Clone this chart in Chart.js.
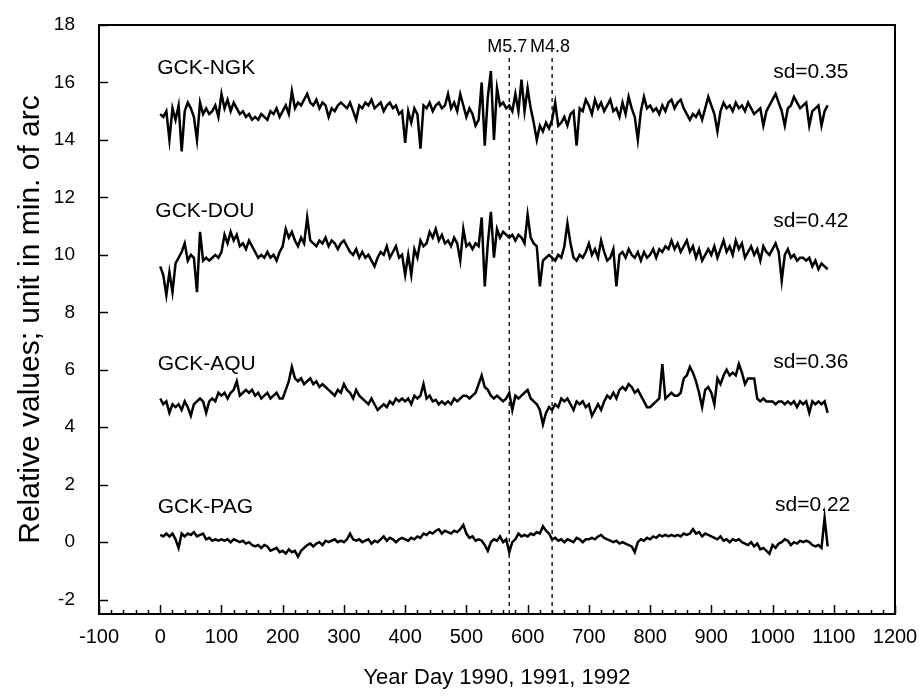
<!DOCTYPE html>
<html>
<head>
<meta charset="utf-8">
<script src="https://cdn.jsdelivr.net/npm/chart.js@4.4.0/dist/chart.umd.min.js"></script>
<style>
  html, body { margin: 0; padding: 0; background: #fff; }
  canvas { display: block; }
</style>
</head>
<body>
<canvas id="tiltChart" width="923" height="699"></canvas>
<script>
// Year day (sampled every 5 days)
var days = [
    0, 5, 10, 15, 20, 25, 30, 35, 40, 45, 50, 55, 60, 65, 70, 75, 80, 85, 90, 95,
    100, 105, 110, 115, 120, 125, 130, 135, 140, 145, 150, 155, 160, 165, 170, 175, 180, 185, 190, 195,
    200, 205, 210, 215, 220, 225, 230, 235, 240, 245, 250, 255, 260, 265, 270, 275, 280, 285, 290, 295,
    300, 305, 310, 315, 320, 325, 330, 335, 340, 345, 350, 355, 360, 365, 370, 375, 380, 385, 390, 395,
    400, 405, 410, 415, 420, 425, 430, 435, 440, 445, 450, 455, 460, 465, 470, 475, 480, 485, 490, 495,
    500, 505, 510, 515, 520, 525, 530, 535, 540, 545, 550, 555, 560, 565, 570, 575, 580, 585, 590, 595,
    600, 605, 610, 615, 620, 625, 630, 635, 640, 645, 650, 655, 660, 665, 670, 675, 680, 685, 690, 695,
    700, 705, 710, 715, 720, 725, 730, 735, 740, 745, 750, 755, 760, 765, 770, 775, 780, 785, 790, 795,
    800, 805, 810, 815, 820, 825, 830, 835, 840, 845, 850, 855, 860, 865, 870, 875, 880, 885, 890, 895,
    900, 905, 910, 915, 920, 925, 930, 935, 940, 945, 950, 955, 960, 965, 970, 975, 980, 985, 990, 995,
    1000, 1005, 1010, 1015, 1020, 1025, 1030, 1035, 1040, 1045, 1050, 1055, 1060, 1065, 1070, 1075, 1080, 1085, 1090
];

var gckNgk = [
    14.9, 14.8, 15.0, 14.0, 15.1, 14.7, 15.2, 13.6, 15.0, 15.3, 15.1, 14.8, 14.0, 15.3, 14.9, 15.1, 14.9, 15.0, 15.2, 14.8,
    15.6, 15.1, 15.4, 15.0, 15.3, 15.1, 14.9, 15.0, 14.8, 14.9, 14.7, 14.8, 14.7, 14.9, 14.8, 14.7, 15.0, 14.9, 15.1, 14.8,
    15.0, 15.2, 14.9, 15.7, 15.1, 15.3, 15.2, 15.4, 15.6, 15.3, 15.2, 15.4, 15.1, 15.3, 15.2, 14.8, 15.1, 15.0, 15.2, 15.3,
    15.2, 15.1, 15.3, 15.0, 14.7, 15.2, 15.1, 15.3, 15.2, 15.4, 15.1, 15.2, 15.3, 15.0, 15.2, 15.3, 15.1, 15.2, 14.9, 15.0,
    13.9, 15.0, 14.6, 15.1, 14.9, 13.7, 15.2, 15.1, 15.3, 15.0, 15.2, 15.3, 15.1, 15.2, 15.6, 15.1, 15.3, 15.0, 15.6, 15.2,
    14.8, 15.1, 14.9, 14.5, 14.7, 16.0, 13.8, 15.5, 16.4, 14.0, 15.8, 15.2, 15.3, 15.1, 15.2, 15.0, 15.6, 15.0, 16.1, 15.0,
    15.8, 15.1, 14.6, 14.0, 14.5, 14.3, 14.6, 14.4, 14.7, 15.3, 14.5, 14.6, 14.8, 14.5, 14.9, 15.0, 13.8, 15.1, 15.0, 15.4,
    15.2, 14.9, 15.4, 15.1, 15.3, 15.0, 15.2, 15.4, 15.0, 15.1, 14.8, 15.3, 14.9, 15.5, 15.1, 14.8, 14.0, 15.0, 15.5, 15.1,
    15.2, 15.0, 15.1, 14.9, 15.2, 15.0, 15.3, 15.4, 15.1, 15.3, 15.4, 15.1, 14.9, 14.7, 14.9, 14.8, 15.0, 14.7, 15.1, 15.5,
    15.2, 14.9, 14.3, 15.0, 15.3, 15.1, 15.2, 15.0, 15.3, 15.1, 15.2, 15.0, 15.3, 15.1, 14.9, 15.0, 15.1, 14.5, 15.0, 15.2,
    15.4, 15.6, 15.3, 15.0, 14.5, 15.1, 15.2, 15.5, 15.3, 15.1, 15.2, 15.3, 14.5, 15.0, 15.1, 15.2, 14.5, 15.0, 15.2
];

var gckDou = [
    9.6, 9.3, 8.6, 9.4, 8.7, 9.7, 9.9, 10.1, 10.4, 9.8, 10.0, 9.9, 8.7, 10.8, 9.8, 9.9, 9.8, 9.9, 10.0, 9.9,
    10.1, 10.7, 10.4, 10.8, 10.5, 10.7, 10.3, 10.4, 10.2, 10.5, 10.3, 10.1, 9.9, 10.0, 9.9, 10.1, 9.9, 10.0, 9.8, 10.1,
    10.3, 10.9, 10.6, 10.8, 10.5, 10.3, 10.6, 10.4, 11.3, 10.5, 10.4, 10.3, 10.5, 10.4, 10.6, 10.3, 10.5, 10.4, 10.2, 10.4,
    10.5, 10.3, 10.1, 10.0, 10.2, 9.9, 10.1, 9.9, 10.0, 9.8, 9.6, 9.9, 10.1, 10.0, 10.3, 9.9, 10.1, 10.3, 9.9, 10.0,
    9.3, 10.0, 9.3, 10.2, 9.9, 10.5, 10.3, 10.4, 10.8, 10.6, 10.9, 10.5, 10.7, 10.4, 10.5, 10.3, 10.6, 10.4, 9.8, 10.9,
    10.3, 10.4, 10.2, 10.4, 10.3, 11.3, 8.9, 10.4, 11.5, 9.9, 10.9, 10.6, 10.8, 10.7, 10.6, 10.7, 10.5, 10.7, 10.6, 10.4,
    11.4, 10.6, 10.4, 10.3, 8.9, 9.8, 9.9, 10.0, 9.9, 9.8, 10.0, 9.9, 10.3, 11.1, 10.4, 9.9, 9.8, 10.0, 9.9, 10.1,
    10.4, 10.0, 10.2, 9.9, 10.5, 10.1, 9.8, 9.9, 10.2, 8.9, 10.0, 10.1, 9.9, 10.2, 10.0, 9.9, 10.1, 9.8, 10.1, 9.9,
    10.0, 10.2, 9.9, 10.2, 10.1, 10.3, 10.2, 10.5, 10.2, 10.4, 10.1, 10.3, 10.5, 10.1, 10.3, 9.9, 10.2, 9.8, 10.0, 10.2,
    10.0, 10.3, 9.9, 10.2, 10.5, 10.1, 10.3, 10.0, 10.5, 10.2, 10.4, 9.9, 10.1, 10.3, 10.0, 10.2, 9.8, 10.3, 10.1, 10.0,
    10.2, 10.4, 10.1, 9.1, 10.0, 10.2, 9.9, 10.0, 9.8, 9.9, 9.9, 9.8, 9.9, 9.6, 9.8, 9.5, 9.7, 9.6, 9.5
];

var gckAqu = [
    5.0, 4.8, 4.9, 4.5, 4.8, 4.7, 4.8, 4.6, 4.9, 4.7, 4.4, 4.8, 4.9, 5.0, 4.9, 4.5, 4.9, 5.0, 4.9, 5.2,
    5.1, 5.2, 5.0, 5.2, 5.3, 5.6, 5.1, 5.2, 5.3, 5.2, 5.3, 5.1, 5.2, 5.0, 5.1, 5.2, 5.0, 5.1, 5.2, 5.0,
    5.0, 5.3, 5.6, 6.1, 5.7, 5.6, 5.7, 5.5, 5.6, 5.7, 5.5, 5.6, 5.4, 5.5, 5.4, 5.3, 5.2, 5.1, 5.3, 5.2,
    5.5, 5.3, 5.2, 5.0, 5.3, 5.1, 5.0, 4.9, 4.8, 5.0, 4.8, 4.6, 4.7, 4.8, 4.7, 4.9, 4.8, 5.0, 4.9, 5.0,
    4.9, 5.0, 4.8, 5.1, 5.0, 5.1, 5.5, 5.0, 5.1, 4.9, 4.95, 4.8, 4.9, 4.8, 4.9, 4.8, 5.0, 4.9, 5.0, 5.1,
    5.1, 5.0, 5.1, 5.2, 5.5, 5.8, 5.4, 5.3, 5.1, 5.0, 5.1, 5.0, 4.9, 5.0, 5.2, 4.6, 5.1, 5.0, 5.1, 5.2,
    5.3, 5.0, 4.9, 4.8, 4.6, 4.1, 4.5, 4.7, 4.6, 4.8, 4.7, 5.0, 4.9, 5.0, 4.8, 4.6, 4.9, 4.8, 4.9, 4.7,
    4.8, 4.4, 4.6, 4.8, 4.6, 4.9, 5.1, 5.0, 5.2, 5.0, 5.3, 5.4, 5.3, 5.5, 5.4, 5.2, 5.3, 5.1, 4.9, 4.7,
    4.7, 4.8, 4.9, 5.0, 6.2, 5.0, 5.1, 5.2, 5.1, 5.1, 5.2, 5.7, 5.8, 6.1, 5.9, 5.6, 5.2, 4.7, 5.3, 5.4,
    5.2, 4.8, 5.7, 5.5, 5.8, 6.0, 5.8, 5.9, 5.8, 6.2, 5.9, 5.5, 5.7, 5.7, 5.7, 5.0, 4.9, 5.0, 4.9, 4.9,
    4.9, 4.8, 4.9, 4.9, 4.8, 4.9, 4.8, 4.9, 4.7, 4.9, 4.8, 4.9, 4.5, 4.9, 4.8, 4.9, 4.8, 4.9, 4.5
];

var gckPag = [
    0.25, 0.2, 0.3, 0.2, 0.3, 0.1, -0.2, 0.3, 0.2, 0.3, 0.25, 0.35, 0.2, 0.25, 0.3, 0.1, 0.15, 0.05, 0.1, 0.05,
    0.1, 0.05, 0.1, 0.0, 0.1, 0.05, 0.0, 0.05, -0.05, 0.0, -0.1, -0.15, -0.1, -0.2, -0.1, -0.15, -0.3, -0.25, -0.2, -0.35,
    -0.3, -0.4, -0.25, -0.35, -0.3, -0.5, -0.3, -0.2, -0.1, -0.05, -0.15, -0.05, 0.0, -0.1, 0.05, 0.0, 0.05, 0.1, 0.0, 0.05,
    0.0, 0.1, 0.3, 0.1, 0.05, 0.1, 0.0, 0.05, 0.1, -0.05, 0.05, 0.0, 0.1, 0.2, 0.05, 0.15, 0.1, 0.0, 0.1, 0.15,
    0.1, 0.05, 0.15, 0.1, 0.2, 0.15, 0.3, 0.25, 0.35, 0.3, 0.4, 0.45, 0.3, 0.4, 0.35, 0.3, 0.4, 0.35, 0.45, 0.6,
    0.3, 0.15, 0.2, 0.05, 0.1, 0.05, -0.1, -0.3, 0.0, 0.1, 0.05, 0.2, 0.0, 0.1, -0.35, 0.0, 0.1, 0.3, 0.2, 0.25,
    0.2, 0.3, 0.25, 0.35, 0.3, 0.55, 0.4, 0.3, 0.1, 0.15, 0.05, 0.1, 0.0, 0.1, 0.05, 0.0, 0.15, 0.1, 0.0, 0.1,
    0.1, 0.15, 0.1, 0.2, 0.25, 0.15, 0.1, 0.05, 0.0, 0.05, -0.05, 0.0, -0.05, -0.1, -0.15, -0.35, 0.0, 0.1, 0.05, 0.15,
    0.1, 0.2, 0.15, 0.25, 0.2, 0.25, 0.2, 0.25, 0.2, 0.25, 0.2, 0.3, 0.25, 0.3, 0.45, 0.3, 0.35, 0.2, 0.3, 0.25,
    0.2, 0.15, 0.1, 0.2, 0.05, 0.1, 0.0, 0.1, 0.05, 0.1, 0.0, -0.05, -0.1, 0.0, -0.15, -0.05, -0.25, -0.2, -0.3, -0.4,
    -0.1, -0.2, -0.05, 0.0, 0.1, 0.05, -0.1, 0.0, -0.05, 0.05, 0.0, 0.05, 0.0, -0.1, -0.15, -0.1, -0.2, 0.85, -0.15
];

// earthquake days (M5.7, M4.8)
var quakeDays = [570, 640];
var quakeNames = ['M5.7', 'M4.8'];

var seriesNames = ['GCK-NGK', 'GCK-DOU', 'GCK-AQU', 'GCK-PAG'];
var sdTexts = ['sd=0.35', 'sd=0.42', 'sd=0.36', 'sd=0.22'];

var xTicks = [-100, 0, 100, 200, 300, 400, 500, 600, 700, 800, 900, 1000, 1100, 1200];
var yTicks = [-2, 0, 2, 4, 6, 8, 10, 12, 14, 16, 18];

var FONT = '"Liberation Sans", Arial, sans-serif';

function toPoints(values) {
    return days.map(function (d, i) { return {x: d, y: values[i]}; });
}

function seriesDataset(values) {
    return {
        data: toPoints(values),
        borderColor: '#000',
        borderWidth: 2.5,
        pointRadius: 0,
        tension: 0,
        fill: false
    };
}

function quakeDataset(day) {
    return {
        data: [{x: day, y: -2.5}, {x: day, y: 16.85}],
        borderColor: '#000',
        borderWidth: 1.3,
        borderDash: [4, 4],
        pointRadius: 0,
        fill: false
    };
}

// text placed in data units (day, value)
var textPlacement = {
    names: [[-5, 16.5], [-8, 11.53], [-4, 6.21], [-4, 1.23]],
    sd: [[1124, 16.37], [1124, 11.18], [1124, 6.28], [1127, 1.3]],
    quakeY: 17.23
};

var frameAndText = {
    id: 'frameAndText',
    beforeDraw: function (chart) {
        var ctx = chart.ctx;
        ctx.save();
        ctx.fillStyle = '#fff';
        ctx.fillRect(0, 0, chart.width, chart.height);
        ctx.restore();
    },
    afterDraw: function (chart) {
        var ctx = chart.ctx, xs = chart.scales.x, ys = chart.scales.y, a = chart.chartArea;
        ctx.save();
        ctx.strokeStyle = '#000';
        ctx.lineWidth = 2;
        ctx.strokeRect(a.left, a.top, a.right - a.left, a.bottom - a.top);

        // inward ticks on x (minor every 20)
        ctx.lineWidth = 1.5;
        ctx.beginPath();
        for (var v = -100; v <= 1200; v += 20) {
            var px = Math.round(xs.getPixelForValue(v)) + 0.5;
            var len = (v % 100 === 0) ? 9 : 4;
            ctx.moveTo(px, a.bottom);
            ctx.lineTo(px, a.bottom - len);
        }
        yTicks.forEach(function (t) {
            var py = Math.round(ys.getPixelForValue(t)) + 0.5;
            ctx.moveTo(a.left, py);
            ctx.lineTo(a.left + 9, py);
        });
        ctx.stroke();

        ctx.fillStyle = '#000';
        ctx.textBaseline = 'middle';
        ctx.font = '21px ' + FONT;
        ctx.textAlign = 'left';
        seriesNames.forEach(function (name, i) {
            var p = textPlacement.names[i];
            ctx.fillText(name, xs.getPixelForValue(p[0]), ys.getPixelForValue(p[1]));
        });
        ctx.textAlign = 'right';
        sdTexts.forEach(function (s, i) {
            var p = textPlacement.sd[i];
            ctx.fillText(s, xs.getPixelForValue(p[0]), ys.getPixelForValue(p[1]));
        });
        ctx.font = '18px ' + FONT;
        ctx.textAlign = 'center';
        quakeNames.forEach(function (q, i) {
            ctx.fillText(q, xs.getPixelForValue(quakeDays[i]) - 2, ys.getPixelForValue(textPlacement.quakeY));
        });
        ctx.restore();
    }
};

var datasets = [gckNgk, gckDou, gckAqu, gckPag].map(seriesDataset)
    .concat(quakeDays.map(quakeDataset));

new Chart(document.getElementById('tiltChart').getContext('2d'), {
    type: 'line',
    data: {datasets: datasets},
    options: {
        responsive: false,
        animation: false,
        devicePixelRatio: 1,
        layout: {padding: {top: 25, right: 28, left: 0, bottom: 0}},
        plugins: {legend: {display: false}, tooltip: {enabled: false}},
        scales: {
            x: {
                type: 'linear',
                min: -100,
                max: 1200,
                afterBuildTicks: function (scale) {
                    scale.ticks = xTicks.map(function (v) { return {value: v}; });
                },
                afterFit: function (scale) { scale.height = 85; },
                // tick marks are drawn inward by the plugin; the hidden length only offsets labels
                grid: {display: false, drawTicks: true, tickLength: 6},
                border: {display: false},
                ticks: {
                    color: '#000',
                    padding: 5,
                    maxRotation: 0,
                    autoSkip: false,
                    font: {family: FONT, size: 20},
                    callback: function (v) { return String(v); }
                },
                title: {
                    display: true,
                    text: 'Year Day 1990, 1991, 1992',
                    color: '#000',
                    padding: {top: 0, bottom: 8},
                    font: {family: FONT, size: 22}
                }
            },
            y: {
                type: 'linear',
                min: -2.5,
                max: 18,
                afterBuildTicks: function (scale) {
                    scale.ticks = yTicks.map(function (v) { return {value: v}; });
                },
                afterFit: function (scale) { scale.width = 99; },
                grid: {display: false, drawTicks: true, tickLength: 14},
                border: {display: false},
                ticks: {
                    color: '#000',
                    padding: 10,
                    autoSkip: false,
                    font: {family: FONT, size: 19},
                    callback: function (v) { return String(v); }
                },
                title: {
                    display: true,
                    text: 'Relative values; unit in min. of arc',
                    color: '#000',
                    padding: {top: 13, bottom: 0},
                    font: {family: FONT, size: 30}
                }
            }
        }
    },
    plugins: [frameAndText]
});
</script>
</body>
</html>
